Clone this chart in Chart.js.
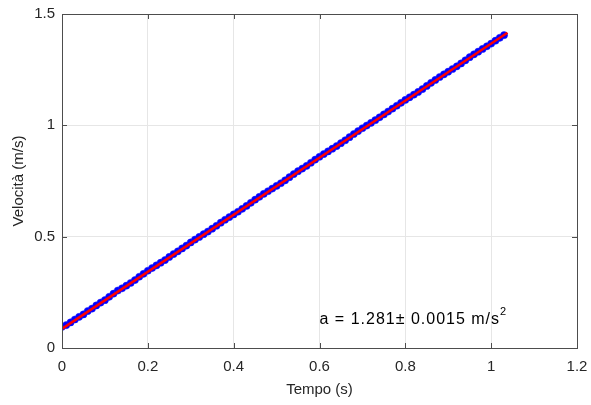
<!DOCTYPE html>
<html>
<head>
  <title>Velocità vs Tempo</title>
  <script src="https://cdn.jsdelivr.net/npm/chart.js"></script>
  <style>
    body {
      margin: 0;
      background-color: #ffffff;
    }
    #grafico {
      display: block;
    }
  </style>
</head>
<body>
  <canvas id="grafico" width="591" height="405"></canvas>

  <script>
    // misure (tempo in s, velocità in m/s)
    var tempo = [
      0.00, 0.01, 0.02, 0.03, 0.04, 0.05, 0.06, 0.07, 0.08, 0.09,
      0.10, 0.11, 0.12, 0.13, 0.14, 0.15, 0.16, 0.17, 0.18, 0.19,
      0.20, 0.21, 0.22, 0.23, 0.24, 0.25, 0.26, 0.27, 0.28, 0.29,
      0.30, 0.31, 0.32, 0.33, 0.34, 0.35, 0.36, 0.37, 0.38, 0.39,
      0.40, 0.41, 0.42, 0.43, 0.44, 0.45, 0.46, 0.47, 0.48, 0.49,
      0.50, 0.51, 0.52, 0.53, 0.54, 0.55, 0.56, 0.57, 0.58, 0.59,
      0.60, 0.61, 0.62, 0.63, 0.64, 0.65, 0.66, 0.67, 0.68, 0.69,
      0.70, 0.71, 0.72, 0.73, 0.74, 0.75, 0.76, 0.77, 0.78, 0.79,
      0.80, 0.81, 0.82, 0.83, 0.84, 0.85, 0.86, 0.87, 0.88, 0.89,
      0.90, 0.91, 0.92, 0.93, 0.94, 0.95, 0.96, 0.97, 0.98, 0.99,
      1.00, 1.01, 1.02, 1.03
    ];
    var velocita = [
      0.095, 0.103, 0.115, 0.128, 0.140, 0.151, 0.166, 0.177, 0.191, 0.204,
      0.215, 0.230, 0.244, 0.258, 0.268, 0.280, 0.292, 0.305, 0.320, 0.333,
      0.347, 0.359, 0.371, 0.383, 0.395, 0.409, 0.422, 0.434, 0.447, 0.460,
      0.474, 0.487, 0.499, 0.511, 0.523, 0.536, 0.549, 0.563, 0.576, 0.588,
      0.600, 0.612, 0.625, 0.638, 0.652, 0.666, 0.679, 0.692, 0.704, 0.716,
      0.728, 0.740, 0.753, 0.767, 0.781, 0.794, 0.806, 0.818, 0.832, 0.846,
      0.859, 0.871, 0.883, 0.895, 0.907, 0.920, 0.933, 0.947, 0.961, 0.974,
      0.987, 0.999, 1.011, 1.023, 1.036, 1.049, 1.062, 1.075, 1.088, 1.101,
      1.114, 1.126, 1.138, 1.150, 1.163, 1.177, 1.191, 1.204, 1.217, 1.229,
      1.241, 1.253, 1.265, 1.278, 1.292, 1.306, 1.319, 1.331, 1.343, 1.355,
      1.367, 1.380, 1.393, 1.405
    ];

    // retta di fit
    var fitTempo = [0, 1.038];
    var fitVelocita = [0.086, 1.416];

    var xTicks = [0, 0.2, 0.4, 0.6, 0.8, 1, 1.2];
    var yTicks = [0, 0.5, 1, 1.5];

    var testoFit = "a = 1.281\u00b1 0.0015 m/s";
    var posTesto = { x: 0.60, y: 0.128 };

    function punti(xs, ys) {
      var out = [];
      for (var i = 0; i < xs.length; i++) out.push({ x: xs[i], y: ys[i] });
      return out;
    }

    var fontBase = "Liberation Sans, Arial, Helvetica, sans-serif";
    var coloreAssi = "#262626";

    // box + tacche interne + testo, stile matlab
    var stileAssi = {
      id: "stileAssi",
      afterDraw: function (chart) {
        var c = chart.ctx;
        var a = chart.chartArea;
        var sx = chart.scales.x;
        var sy = chart.scales.y;
        c.save();
        c.strokeStyle = "#4d4d4d";
        c.lineWidth = 1;
        c.beginPath();
        xTicks.forEach(function (v) {
          var px = Math.round(sx.getPixelForValue(v)) + 0.5;
          c.moveTo(px, a.bottom); c.lineTo(px, a.bottom - 5);
          c.moveTo(px, a.top); c.lineTo(px, a.top + 5);
        });
        yTicks.forEach(function (v) {
          var py = Math.round(sy.getPixelForValue(v)) + 0.5;
          c.moveTo(a.left, py); c.lineTo(a.left + 5, py);
          c.moveTo(a.right, py); c.lineTo(a.right - 5, py);
        });
        c.stroke();
        c.strokeRect(Math.round(a.left) + 0.5, Math.round(a.top) + 0.5,
          Math.round(a.right - a.left), Math.round(a.bottom - a.top));

        // annotazione
        var tx = sx.getPixelForValue(posTesto.x);
        var ty = sy.getPixelForValue(posTesto.y);
        c.fillStyle = "#000000";
        c.font = "16px " + fontBase;
        c.letterSpacing = "1px";
        c.textBaseline = "middle";
        c.textAlign = "left";
        c.fillText(testoFit, tx, ty);
        var w = c.measureText(testoFit).width;
        c.font = "11px " + fontBase;
        c.fillText("2", tx + w, ty - 8);
        c.restore();
      }
    };

    function etichetta(v) { return String(v); }

    var ctx = document.getElementById("grafico").getContext("2d");
    var chart = new Chart(ctx, {
      type: "scatter",
      data: {
        datasets: [
          {
            label: "fit",
            data: punti(fitTempo, fitVelocita),
            showLine: true,
            borderColor: "#ff0000",
            backgroundColor: "#ff0000",
            borderWidth: 2.5,
            pointRadius: 0
          },
          {
            label: "dati",
            data: punti(tempo, velocita),
            showLine: false,
            pointStyle: "circle",
            pointRadius: 3.6,
            borderColor: "#1a1aff",
            backgroundColor: "#0000ff",
            pointBorderWidth: 0.5
          }
        ]
      },
      options: {
        responsive: false,
        animation: false,
        events: [],
        layout: {
          padding: { top: 14, right: 14, left: 0, bottom: 0 }
        },
        plugins: {
          legend: { display: false },
          tooltip: { enabled: false }
        },
        scales: {
          x: {
            type: "linear",
            min: 0,
            max: 1.2,
            afterBuildTicks: function (s) {
              s.ticks = xTicks.map(function (v) { return { value: v }; });
            },
            afterFit: function (s) {
              s.height = 57;
              s.paddingRight = 0;
              s.paddingLeft = 0;
            },
            grid: { color: "#e6e6e6", drawTicks: false },
            border: { display: false },
            ticks: {
              color: coloreAssi,
              padding: 10,
              maxRotation: 0,
              callback: etichetta,
              font: { family: fontBase, size: 15 }
            },
            title: {
              display: true,
              text: "Tempo (s)",
              color: coloreAssi,
              padding: { top: 0, bottom: 6 },
              font: { family: fontBase, size: 15 }
            }
          },
          y: {
            type: "linear",
            min: 0,
            max: 1.5,
            afterBuildTicks: function (s) {
              s.ticks = yTicks.map(function (v) { return { value: v }; });
            },
            afterFit: function (s) {
              s.width = 62;
              s.paddingTop = 0;
              s.paddingBottom = 0;
            },
            grid: { color: "#e6e6e6", drawTicks: false },
            border: { display: false },
            ticks: {
              color: coloreAssi,
              padding: 7,
              callback: etichetta,
              font: { family: fontBase, size: 15 }
            },
            title: {
              display: true,
              text: "Velocità (m/s)",
              color: coloreAssi,
              padding: { top: 10, bottom: 0 },
              font: { family: fontBase, size: 15 }
            }
          }
        }
      },
      plugins: [stileAssi]
    });
  </script>
</body>
</html>
